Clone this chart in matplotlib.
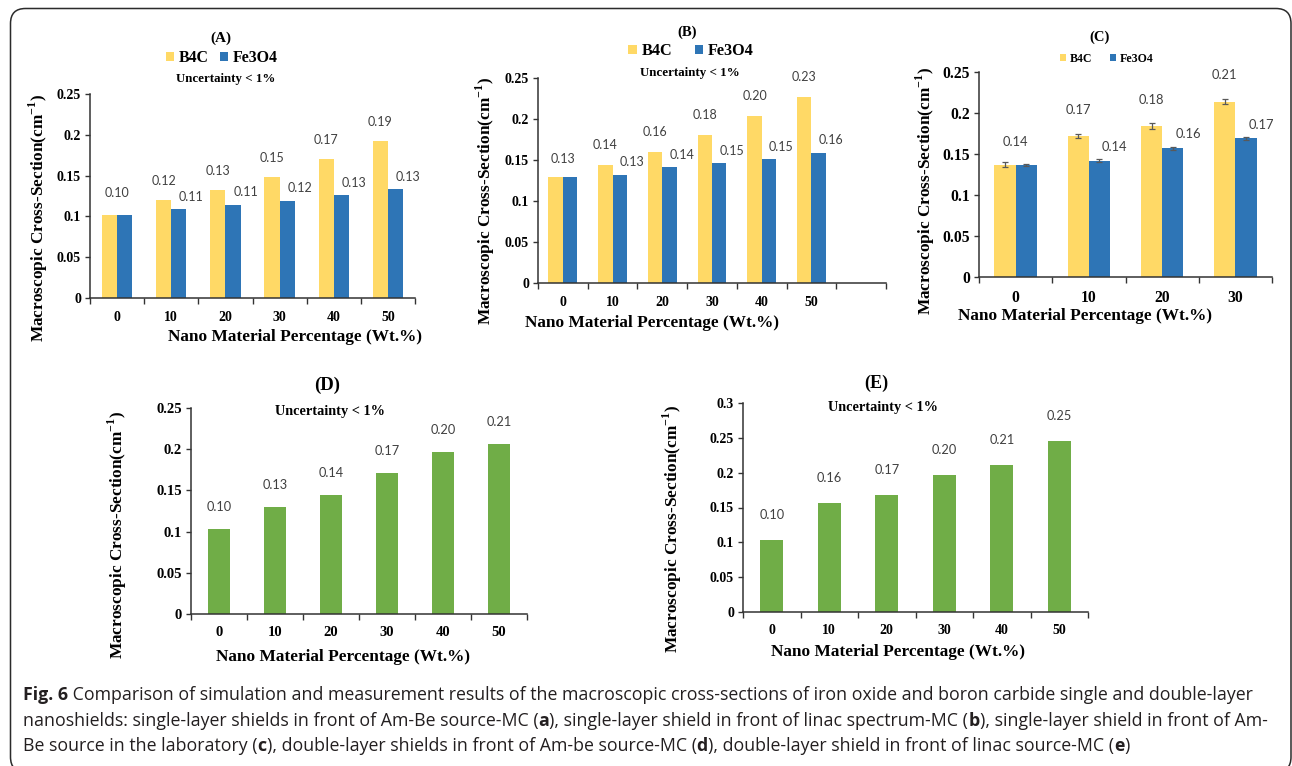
import matplotlib
matplotlib.use("Agg")
import numpy as np
import matplotlib.pyplot as plt
from matplotlib.patches import FancyBboxPatch
from matplotlib.transforms import IdentityTransform
from matplotlib.ticker import FuncFormatter

W, H = 1292, 766

# ---- data ----
pct_6 = ["0", "10", "20", "30", "40", "50"]
pct_4 = ["0", "10", "20", "30"]

b4c_a = [0.102, 0.120, 0.132, 0.148, 0.170, 0.192]
fe3o4_a = [0.102, 0.109, 0.114, 0.119, 0.126, 0.133]

b4c_b = [0.129, 0.144, 0.160, 0.181, 0.204, 0.227]
fe3o4_b = [0.129, 0.132, 0.141, 0.146, 0.151, 0.159]

b4c_c = [0.137, 0.172, 0.184, 0.214]
fe3o4_c = [0.137, 0.142, 0.157, 0.169]
b4c_c_err = [0.003, 0.003, 0.0036, 0.0035]
fe3o4_c_err = [0.0012, 0.0016, 0.0016, 0.0016]

double_d = [0.103, 0.130, 0.144, 0.171, 0.196, 0.206]
double_e = [0.103, 0.156, 0.168, 0.196, 0.211, 0.246]

YELLOW = "#FFD966"
BLUE = "#2E75B6"
GREEN = "#70AD47"
LABEL_GRAY = "#404040"
SERIF = "Liberation Serif"
LBL_FONT = "Lato"

plt.rcParams["mathtext.fontset"] = "custom"
plt.rcParams["mathtext.rm"] = "Liberation Serif"
plt.rcParams["mathtext.bf"] = "Liberation Serif:bold"

fig = plt.figure(figsize=(W / 100, H / 100), dpi=100)


def fx(px):
    return px / W


def fy(py):
    return 1 - py / H


def bold_text(x, y, s, size, **kw):
    return fig.text(fx(x), fy(y), s, fontsize=size, fontweight="bold",
                    family=SERIF, ha="center", va="center", **kw)


def panel(box, cats, n_slots, series, colors, width, ymax, ystep, tick_size,
          errs=None, offsets=None):
    left, top, right, bottom = box
    ax = fig.add_axes([fx(left), fy(bottom), fx(right - left), (bottom - top) / H])
    x = np.arange(len(cats))
    k = len(series)
    bars = []
    for i, (vals, col) in enumerate(zip(series, colors)):
        pos = x + (i - (k - 1) / 2) * width
        kw = {}
        if errs is not None:
            kw = dict(yerr=errs[i], capsize=2.2,
                      error_kw=dict(ecolor="#595959", elinewidth=0.9, capthick=0.9))
        bars.append(ax.bar(pos, vals, width, color=col, **kw))

    # value labels
    for j in range(len(cats)):
        vals = [s[j] for s in series]
        if k > 1 and len(set(vals)) == 1:
            ax.annotate(f"{vals[0]:.2f}", (x[j], vals[0]), xytext=(0, offsets["same"]),
                        textcoords="offset points", ha="center", va="center",
                        fontsize=offsets["size"], color=LABEL_GRAY, family=LBL_FONT)
            continue
        for i, v in enumerate(vals):
            dx, dy = offsets["series"][i]
            ax.annotate(f"{v:.2f}", (x[j] + (i - (k - 1) / 2) * width, v),
                        xytext=(dx, dy), textcoords="offset points",
                        ha="center", va="center", fontsize=offsets["size"],
                        color=LABEL_GRAY, family=LBL_FONT)

    ax.set_xlim(-0.5, n_slots - 0.5)
    ax.set_ylim(0, ymax)
    ax.set_yticks(np.arange(0, ymax + 1e-9, ystep))
    ax.yaxis.set_major_formatter(FuncFormatter(lambda v, _: f"{v:g}"))
    ax.set_xticks(np.arange(n_slots + 1) - 0.5)
    ax.set_xticklabels([])
    ax.set_xticks(x, minor=True)
    ax.set_xticklabels(cats, minor=True)
    ax.tick_params(axis="x", which="major", length=4.5, width=1.0, color="#333333")
    ax.tick_params(axis="x", which="minor", length=0, pad=9)
    ax.tick_params(axis="y", length=3.5, width=1.0, color="#333333", pad=3)
    for lab in ax.get_xticklabels(minor=True) + ax.get_yticklabels():
        lab.set_fontfamily(SERIF)
        lab.set_fontweight("bold")
        lab.set_fontsize(tick_size)
    for side in ("top", "right"):
        ax.spines[side].set_visible(False)
    for side in ("left", "bottom"):
        ax.spines[side].set_linewidth(1.1)
        ax.spines[side].set_color("#333333")
    return ax, bars


YLABEL = r"Macroscopic Cross-Section(cm$^{\mathbf{-1}}$)"
XLABEL = "Nano Material Percentage (Wt.%)"


def legend(bars, x, y, size, colspace):
    fig.legend([bars[0], bars[1]], ["B4C", "Fe3O4"], loc="center",
               bbox_to_anchor=(fx(x), fy(y)), ncol=2, frameon=False,
               handlelength=0.5, handleheight=0.5, handletextpad=0.3,
               columnspacing=colspace, borderpad=0,
               prop=dict(family=SERIF, weight="bold", size=size))


# ---- (A) ----
ax, bars = panel((90, 94, 415, 298), pct_6, 6, [b4c_a, fe3o4_a], [YELLOW, BLUE],
                 0.28, 0.25, 0.05, 10,
                 offsets=dict(size=9, same=16, series=[(0, 14), (9, 9)]))
bold_text(221, 38, "(A)", 11)
legend(bars, 222, 58, 11.4, 0.7)
bold_text(226, 79, "Uncertainty < 1%", 9.3)
bold_text(38, 218, YLABEL, 12.4, rotation=90)
bold_text(295, 337, XLABEL, 12.4)

# ---- (B) ----
ax, bars = panel((538, 78, 886, 283), pct_6, 7, [b4c_b, fe3o4_b], [YELLOW, BLUE],
                 0.29, 0.25, 0.05, 10,
                 offsets=dict(size=9, same=13, series=[(0, 14), (9, 9)]))
bold_text(687, 32, "(B)", 10.5)
legend(bars, 691, 51, 11.7, 1.4)
bold_text(690, 73, "Uncertainty < 1%", 9.4)
bold_text(485, 201, YLABEL, 12.4, rotation=90)
bold_text(652, 323, XLABEL, 12.4)

# ---- (C) ----
ax, bars = panel((979, 72, 1272, 277), pct_4, 4, [b4c_c, fe3o4_c], [YELLOW, BLUE],
                 0.29, 0.25, 0.05, 11.3, errs=[b4c_c_err, fe3o4_c_err],
                 offsets=dict(size=9.3, same=16, series=[(0, 19), (11, 10)]))
bold_text(1100, 37, "(C)", 10.5)
legend(bars, 1107, 59, 8.6, 1.5)
bold_text(925, 191, YLABEL, 12.4, rotation=90)
bold_text(1085, 316, XLABEL, 12.4)

# ---- (D) ----
panel((191, 408, 527, 614), pct_6, 6, [double_d], [GREEN], 0.40, 0.25, 0.05, 10.5,
      offsets=dict(size=9.2, same=16, series=[(0, 16)]))
bold_text(327, 385, "(D)", 13.5)
bold_text(330, 412, "Uncertainty < 1%", 10.3)
bold_text(117, 535, YLABEL, 12.4, rotation=90)
bold_text(343, 657, XLABEL, 12.4)

# ---- (E) ----
panel((743, 403, 1088, 612), pct_6, 6, [double_e], [GREEN], 0.405, 0.3, 0.05, 10,
      offsets=dict(size=9.2, same=18, series=[(0, 18)]))
bold_text(876, 383, "(E)", 13)
bold_text(883, 407, "Uncertainty < 1%", 10.3)
bold_text(672, 529, YLABEL, 12.4, rotation=90)
bold_text(898, 652, XLABEL, 12.4)

# ---- caption ----
CAP_FONT = "Open Sans"
caption = [
    [("Fig. 6", "bold"), (" Comparison of simulation and measurement results of the macroscopic "
                          "cross-sections of iron oxide and boron carbide single and double-layer", "normal")],
    [("nanoshields: single-layer shields in front of Am-Be source-MC (", "normal"), ("a", "bold"),
     ("), single-layer shield in front of linac spectrum-MC (", "normal"), ("b", "bold"),
     ("), single-layer shield in front of Am-", "normal")],
    [("Be source in the laboratory (", "normal"), ("c", "bold"),
     ("), double-layer shields in front of Am-be source-MC (", "normal"), ("d", "bold"),
     ("), double-layer shield in front of linac source-MC (", "normal"), ("e", "bold"), (")", "normal")],
]
renderer = fig.canvas.get_renderer()


def text_width(s, size, weight):
    t = fig.text(0, 0, s, fontsize=size, fontweight=weight, family=CAP_FONT)
    w = t.get_window_extent(renderer).width
    t.remove()
    return w


def piece_advance(s, size, weight):
    # pad with bars so edge spaces count
    return text_width("|" + s + "|", size, weight) - text_width("||", size, weight)


base = 10
line2_w = sum(piece_advance(s, base, w) for s, w in caption[1])
cap_size = base * (1266 - 23) / line2_w

for row, y in zip(caption, [700, 725.5, 751]):
    x = 23
    for s, w in row:
        fig.text(fx(x), fy(y), s, fontsize=cap_size, fontweight=w, family=CAP_FONT,
                 color="#231F20", va="baseline", ha="left")
        x += piece_advance(s, cap_size, w)

# ---- border ----
border = FancyBboxPatch((10.5, -6), 1280.5, 766 - 8.5 + 6,
                        boxstyle="round,pad=0,rounding_size=15",
                        transform=IdentityTransform(), fill=False,
                        edgecolor="#2b2b2b", linewidth=1.1)
fig.patches.append(border)

fig.savefig("out.png", dpi=100)
